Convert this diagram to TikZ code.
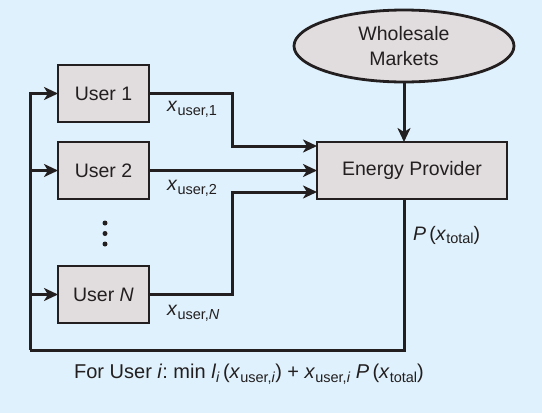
\documentclass[tikz,border=0pt]{standalone}
\usepackage{fontspec}
\setmainfont{Liberation Sans}
\usepackage{xcolor}
\usetikzlibrary{arrows.meta, shapes.geometric, positioning, calc}

\definecolor{panelBlue}{RGB}{223,241,252}
\definecolor{boxGray}{RGB}{225,221,222}
\definecolor{inkDark}{RGB}{35,31,32}

\newcommand{\lowtext}[1]{\raisebox{-0.38ex}{\fontsize{14.5}{16}\selectfont #1}}
\frenchspacing

\tikzset{
	userbox/.style = {draw = inkDark, fill = boxGray, line width = 2.8pt, minimum width = 91pt, minimum height = 57pt, inner sep = 0pt, outer sep = 0pt},
	marketnode/.style = {ellipse, draw = inkDark, fill = boxGray, line width = 2.8pt, minimum width = 220pt, minimum height = 72pt, inner sep = 0pt, outer sep = 0pt, align = center},
	flow/.style = {draw = inkDark, line width = 3pt},
	>={Stealth[length = 14pt, width = 13pt, inset = 4pt]}
}

\begin{document}
\begin{tikzpicture}[x = 1pt, y = -1pt, font = \fontsize{19.5}{23}\selectfont, text = inkDark]
		\fill [panelBlue] (0, 0) rectangle (542, 413);
		\useasboundingbox (0, 0) rectangle (542, 413);

		\node [userbox] (user1) at (103.5, 93.5) {User 1};
		\node [userbox, below = 20pt of user1] (user2) {User 2};
		\node [userbox, below = 67pt of user2] (userN) {User \textit{N}};
		\foreach \dotY in {223, 233.5, 244}
			\fill [inkDark] (105, \dotY) circle (2.5);

		\node [userbox, minimum width = 190pt] (provider) at (412, 170.5) {Energy Provider};
		\node [marketnode] (market) at (404, 46) {Wholesale\\[2pt]Markets};

		\coordinate (bend) at (232, 0);
		\coordinate [above = 24.5pt of provider.west] (in1);
		\coordinate [below = 21.5pt of provider.west] (inN);
		\coordinate [left = 8pt of provider.south] (pOut);
		\coordinate (loop) at (30, 350);

		\draw [flow, ->] (market.south) -- (market.south |- provider.north);
		\draw [flow, ->] (user1.east) -- (user1.east -| bend) |- (in1);
		\draw [flow, ->] (user2.east) -- (provider.west);
		\draw [flow, ->] (userN.east) -- (userN.east -| bend) |- (inN);

		\draw [flow] (pOut) |- (loop);
		\draw [flow, ->] (loop) |- (user1.west);
		\draw [flow, ->] (loop |- user2.west) -- (user2.west);
		\draw [flow, ->] (loop |- userN.west) -- (userN.west);

		\node [anchor = west, inner sep = 0pt] (flow1) at (167, 109) {\textit{x}\lowtext{user,1}};
		\node [anchor = west, inner sep = 0pt] (flow2) at (167, 188) {\textit{x}\lowtext{user,2}};
		\node [anchor = west, inner sep = 0pt] (flowN) at (167, 313) {\textit{x}\lowtext{user,\textit{N}}};
		\node [anchor = west, inner sep = 0pt] (price) at (413, 235) {\textit{P}\,(\textit{x}\lowtext{total})};
		\node [inner sep = 0pt, font = \fontsize{20}{23}\selectfont] (goal) at (249, 374) {For User \textit{i}: min \textit{l}\lowtext{\textit{i}}\,(\textit{x}\lowtext{user,\textit{i}}) + \textit{x}\lowtext{user,\textit{i}} \textit{P}\,(\textit{x}\lowtext{total})};
	\end{tikzpicture}
\end{document}
